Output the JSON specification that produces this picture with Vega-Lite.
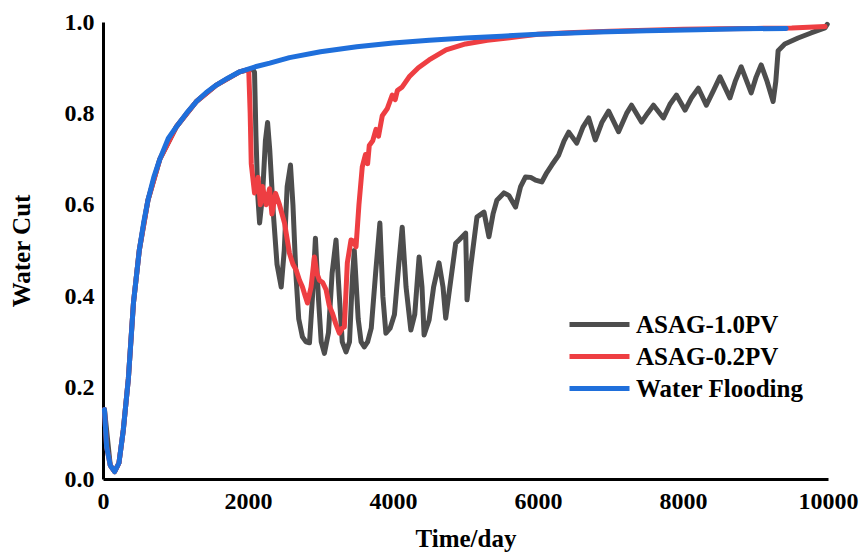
{
  "$schema": "https://vega.github.io/schema/vega-lite/v6.json",
  "autosize": {"type": "none"},
  "padding": {"left": 103, "top": 22, "right": 31, "bottom": 73},
  "width": 725,
  "height": 457,
  "background": "white",
  "config": {
    "view": {"stroke": null},
    "font": "Liberation Serif",
    "axis": {
      "labelFont": "Liberation Serif", "labelFontWeight": "bold", "labelFontSize": 24, "labelColor": "black",
      "titleFont": "Liberation Serif", "titleFontWeight": "bold", "titleFontSize": 25, "titleColor": "black",
      "domainColor": "black", "domainWidth": 3, "ticks": false, "grid": false
    },
    "legend": {
      "labelFont": "Liberation Serif", "labelFontWeight": "bold", "labelFontSize": 25, "labelColor": "black", "padding": 0, "labelLimit": 400
    }
  },
  "data": {"values": [
    {"t": 20, "wc": 0.152, "s": "Water Flooding"},
    {"t": 50, "wc": 0.07, "s": "Water Flooding"},
    {"t": 100, "wc": 0.03, "s": "Water Flooding"},
    {"t": 160, "wc": 0.016, "s": "Water Flooding"},
    {"t": 220, "wc": 0.035, "s": "Water Flooding"},
    {"t": 280, "wc": 0.107, "s": "Water Flooding"},
    {"t": 350, "wc": 0.22, "s": "Water Flooding"},
    {"t": 420, "wc": 0.385, "s": "Water Flooding"},
    {"t": 500, "wc": 0.5, "s": "Water Flooding"},
    {"t": 560, "wc": 0.56, "s": "Water Flooding"},
    {"t": 620, "wc": 0.61, "s": "Water Flooding"},
    {"t": 700, "wc": 0.66, "s": "Water Flooding"},
    {"t": 784, "wc": 0.7, "s": "Water Flooding"},
    {"t": 900, "wc": 0.745, "s": "Water Flooding"},
    {"t": 1013, "wc": 0.771, "s": "Water Flooding"},
    {"t": 1150, "wc": 0.8, "s": "Water Flooding"},
    {"t": 1288, "wc": 0.826, "s": "Water Flooding"},
    {"t": 1420, "wc": 0.845, "s": "Water Flooding"},
    {"t": 1563, "wc": 0.862, "s": "Water Flooding"},
    {"t": 1720, "wc": 0.877, "s": "Water Flooding"},
    {"t": 1884, "wc": 0.891, "s": "Water Flooding"},
    {"t": 2100, "wc": 0.902, "s": "Water Flooding"},
    {"t": 2300, "wc": 0.91, "s": "Water Flooding"},
    {"t": 2572, "wc": 0.922, "s": "Water Flooding"},
    {"t": 3000, "wc": 0.935, "s": "Water Flooding"},
    {"t": 3500, "wc": 0.946, "s": "Water Flooding"},
    {"t": 4000, "wc": 0.954, "s": "Water Flooding"},
    {"t": 4500, "wc": 0.96, "s": "Water Flooding"},
    {"t": 5000, "wc": 0.965, "s": "Water Flooding"},
    {"t": 5500, "wc": 0.969, "s": "Water Flooding"},
    {"t": 6000, "wc": 0.973, "s": "Water Flooding"},
    {"t": 6836, "wc": 0.978, "s": "Water Flooding"},
    {"t": 7500, "wc": 0.981, "s": "Water Flooding"},
    {"t": 8200, "wc": 0.983, "s": "Water Flooding"},
    {"t": 8800, "wc": 0.985, "s": "Water Flooding"},
    {"t": 9422, "wc": 0.986, "s": "Water Flooding"},

    {"t": 20, "wc": 0.152, "s": "ASAG-0.2PV"},
    {"t": 50, "wc": 0.07, "s": "ASAG-0.2PV"},
    {"t": 100, "wc": 0.03, "s": "ASAG-0.2PV"},
    {"t": 160, "wc": 0.016, "s": "ASAG-0.2PV"},
    {"t": 220, "wc": 0.035, "s": "ASAG-0.2PV"},
    {"t": 280, "wc": 0.107, "s": "ASAG-0.2PV"},
    {"t": 350, "wc": 0.22, "s": "ASAG-0.2PV"},
    {"t": 420, "wc": 0.385, "s": "ASAG-0.2PV"},
    {"t": 500, "wc": 0.5, "s": "ASAG-0.2PV"},
    {"t": 620, "wc": 0.61, "s": "ASAG-0.2PV"},
    {"t": 784, "wc": 0.7, "s": "ASAG-0.2PV"},
    {"t": 1013, "wc": 0.771, "s": "ASAG-0.2PV"},
    {"t": 1288, "wc": 0.826, "s": "ASAG-0.2PV"},
    {"t": 1563, "wc": 0.862, "s": "ASAG-0.2PV"},
    {"t": 1884, "wc": 0.891, "s": "ASAG-0.2PV"},
    {"t": 2010, "wc": 0.896, "s": "ASAG-0.2PV"},
    {"t": 2030, "wc": 0.8, "s": "ASAG-0.2PV"},
    {"t": 2045, "wc": 0.69, "s": "ASAG-0.2PV"},
    {"t": 2090, "wc": 0.626, "s": "ASAG-0.2PV"},
    {"t": 2140, "wc": 0.66, "s": "ASAG-0.2PV"},
    {"t": 2170, "wc": 0.6, "s": "ASAG-0.2PV"},
    {"t": 2200, "wc": 0.64, "s": "ASAG-0.2PV"},
    {"t": 2250, "wc": 0.6, "s": "ASAG-0.2PV"},
    {"t": 2297, "wc": 0.635, "s": "ASAG-0.2PV"},
    {"t": 2330, "wc": 0.58, "s": "ASAG-0.2PV"},
    {"t": 2380, "wc": 0.625, "s": "ASAG-0.2PV"},
    {"t": 2435, "wc": 0.6, "s": "ASAG-0.2PV"},
    {"t": 2504, "wc": 0.56, "s": "ASAG-0.2PV"},
    {"t": 2572, "wc": 0.494, "s": "ASAG-0.2PV"},
    {"t": 2620, "wc": 0.47, "s": "ASAG-0.2PV"},
    {"t": 2664, "wc": 0.457, "s": "ASAG-0.2PV"},
    {"t": 2710, "wc": 0.435, "s": "ASAG-0.2PV"},
    {"t": 2751, "wc": 0.42, "s": "ASAG-0.2PV"},
    {"t": 2790, "wc": 0.4, "s": "ASAG-0.2PV"},
    {"t": 2820, "wc": 0.385, "s": "ASAG-0.2PV"},
    {"t": 2870, "wc": 0.42, "s": "ASAG-0.2PV"},
    {"t": 2916, "wc": 0.486, "s": "ASAG-0.2PV"},
    {"t": 2950, "wc": 0.45, "s": "ASAG-0.2PV"},
    {"t": 2985, "wc": 0.435, "s": "ASAG-0.2PV"},
    {"t": 3030, "wc": 0.43, "s": "ASAG-0.2PV"},
    {"t": 3077, "wc": 0.414, "s": "ASAG-0.2PV"},
    {"t": 3120, "wc": 0.38, "s": "ASAG-0.2PV"},
    {"t": 3164, "wc": 0.363, "s": "ASAG-0.2PV"},
    {"t": 3210, "wc": 0.34, "s": "ASAG-0.2PV"},
    {"t": 3260, "wc": 0.319, "s": "ASAG-0.2PV"},
    {"t": 3300, "wc": 0.33, "s": "ASAG-0.2PV"},
    {"t": 3329, "wc": 0.333, "s": "ASAG-0.2PV"},
    {"t": 3370, "wc": 0.473, "s": "ASAG-0.2PV"},
    {"t": 3421, "wc": 0.523, "s": "ASAG-0.2PV"},
    {"t": 3460, "wc": 0.52, "s": "ASAG-0.2PV"},
    {"t": 3490, "wc": 0.508, "s": "ASAG-0.2PV"},
    {"t": 3530, "wc": 0.6, "s": "ASAG-0.2PV"},
    {"t": 3576, "wc": 0.683, "s": "ASAG-0.2PV"},
    {"t": 3620, "wc": 0.71, "s": "ASAG-0.2PV"},
    {"t": 3650, "wc": 0.69, "s": "ASAG-0.2PV"},
    {"t": 3673, "wc": 0.73, "s": "ASAG-0.2PV"},
    {"t": 3720, "wc": 0.74, "s": "ASAG-0.2PV"},
    {"t": 3765, "wc": 0.765, "s": "ASAG-0.2PV"},
    {"t": 3800, "wc": 0.75, "s": "ASAG-0.2PV"},
    {"t": 3852, "wc": 0.795, "s": "ASAG-0.2PV"},
    {"t": 3920, "wc": 0.81, "s": "ASAG-0.2PV"},
    {"t": 3989, "wc": 0.84, "s": "ASAG-0.2PV"},
    {"t": 4030, "wc": 0.83, "s": "ASAG-0.2PV"},
    {"t": 4060, "wc": 0.85, "s": "ASAG-0.2PV"},
    {"t": 4127, "wc": 0.858, "s": "ASAG-0.2PV"},
    {"t": 4180, "wc": 0.87, "s": "ASAG-0.2PV"},
    {"t": 4223, "wc": 0.88, "s": "ASAG-0.2PV"},
    {"t": 4350, "wc": 0.9, "s": "ASAG-0.2PV"},
    {"t": 4498, "wc": 0.917, "s": "ASAG-0.2PV"},
    {"t": 4732, "wc": 0.939, "s": "ASAG-0.2PV"},
    {"t": 5000, "wc": 0.952, "s": "ASAG-0.2PV"},
    {"t": 5300, "wc": 0.96, "s": "ASAG-0.2PV"},
    {"t": 5740, "wc": 0.968, "s": "ASAG-0.2PV"},
    {"t": 6000, "wc": 0.973, "s": "ASAG-0.2PV"},
    {"t": 6500, "wc": 0.977, "s": "ASAG-0.2PV"},
    {"t": 7000, "wc": 0.98, "s": "ASAG-0.2PV"},
    {"t": 7500, "wc": 0.982, "s": "ASAG-0.2PV"},
    {"t": 8000, "wc": 0.984, "s": "ASAG-0.2PV"},
    {"t": 8500, "wc": 0.985, "s": "ASAG-0.2PV"},
    {"t": 9000, "wc": 0.986, "s": "ASAG-0.2PV"},
    {"t": 9500, "wc": 0.987, "s": "ASAG-0.2PV"},
    {"t": 9960, "wc": 0.99, "s": "ASAG-0.2PV"},

    {"t": 20, "wc": 0.152, "s": "ASAG-1.0PV"},
    {"t": 100, "wc": 0.03, "s": "ASAG-1.0PV"},
    {"t": 160, "wc": 0.016, "s": "ASAG-1.0PV"},
    {"t": 220, "wc": 0.035, "s": "ASAG-1.0PV"},
    {"t": 280, "wc": 0.107, "s": "ASAG-1.0PV"},
    {"t": 350, "wc": 0.22, "s": "ASAG-1.0PV"},
    {"t": 420, "wc": 0.385, "s": "ASAG-1.0PV"},
    {"t": 500, "wc": 0.5, "s": "ASAG-1.0PV"},
    {"t": 620, "wc": 0.61, "s": "ASAG-1.0PV"},
    {"t": 784, "wc": 0.7, "s": "ASAG-1.0PV"},
    {"t": 1013, "wc": 0.771, "s": "ASAG-1.0PV"},
    {"t": 1288, "wc": 0.826, "s": "ASAG-1.0PV"},
    {"t": 1563, "wc": 0.862, "s": "ASAG-1.0PV"},
    {"t": 1884, "wc": 0.891, "s": "ASAG-1.0PV"},
    {"t": 2060, "wc": 0.898, "s": "ASAG-1.0PV"},
    {"t": 2090, "wc": 0.89, "s": "ASAG-1.0PV"},
    {"t": 2110, "wc": 0.75, "s": "ASAG-1.0PV"},
    {"t": 2135, "wc": 0.62, "s": "ASAG-1.0PV"},
    {"t": 2160, "wc": 0.56, "s": "ASAG-1.0PV"},
    {"t": 2200, "wc": 0.62, "s": "ASAG-1.0PV"},
    {"t": 2240, "wc": 0.74, "s": "ASAG-1.0PV"},
    {"t": 2270, "wc": 0.78, "s": "ASAG-1.0PV"},
    {"t": 2300, "wc": 0.72, "s": "ASAG-1.0PV"},
    {"t": 2350, "wc": 0.58, "s": "ASAG-1.0PV"},
    {"t": 2400, "wc": 0.47, "s": "ASAG-1.0PV"},
    {"t": 2458, "wc": 0.42, "s": "ASAG-1.0PV"},
    {"t": 2500, "wc": 0.5, "s": "ASAG-1.0PV"},
    {"t": 2540, "wc": 0.64, "s": "ASAG-1.0PV"},
    {"t": 2586, "wc": 0.687, "s": "ASAG-1.0PV"},
    {"t": 2620, "wc": 0.6, "s": "ASAG-1.0PV"},
    {"t": 2660, "wc": 0.45, "s": "ASAG-1.0PV"},
    {"t": 2700, "wc": 0.35, "s": "ASAG-1.0PV"},
    {"t": 2751, "wc": 0.311, "s": "ASAG-1.0PV"},
    {"t": 2800, "wc": 0.3, "s": "ASAG-1.0PV"},
    {"t": 2848, "wc": 0.298, "s": "ASAG-1.0PV"},
    {"t": 2890, "wc": 0.4, "s": "ASAG-1.0PV"},
    {"t": 2930, "wc": 0.527, "s": "ASAG-1.0PV"},
    {"t": 2970, "wc": 0.4, "s": "ASAG-1.0PV"},
    {"t": 3010, "wc": 0.3, "s": "ASAG-1.0PV"},
    {"t": 3054, "wc": 0.275, "s": "ASAG-1.0PV"},
    {"t": 3110, "wc": 0.32, "s": "ASAG-1.0PV"},
    {"t": 3160, "wc": 0.45, "s": "ASAG-1.0PV"},
    {"t": 3214, "wc": 0.523, "s": "ASAG-1.0PV"},
    {"t": 3260, "wc": 0.4, "s": "ASAG-1.0PV"},
    {"t": 3300, "wc": 0.3, "s": "ASAG-1.0PV"},
    {"t": 3352, "wc": 0.278, "s": "ASAG-1.0PV"},
    {"t": 3400, "wc": 0.3, "s": "ASAG-1.0PV"},
    {"t": 3440, "wc": 0.44, "s": "ASAG-1.0PV"},
    {"t": 3466, "wc": 0.5, "s": "ASAG-1.0PV"},
    {"t": 3520, "wc": 0.35, "s": "ASAG-1.0PV"},
    {"t": 3560, "wc": 0.3, "s": "ASAG-1.0PV"},
    {"t": 3604, "wc": 0.289, "s": "ASAG-1.0PV"},
    {"t": 3650, "wc": 0.3, "s": "ASAG-1.0PV"},
    {"t": 3700, "wc": 0.33, "s": "ASAG-1.0PV"},
    {"t": 3760, "wc": 0.45, "s": "ASAG-1.0PV"},
    {"t": 3819, "wc": 0.56, "s": "ASAG-1.0PV"},
    {"t": 3860, "wc": 0.4, "s": "ASAG-1.0PV"},
    {"t": 3902, "wc": 0.319, "s": "ASAG-1.0PV"},
    {"t": 3960, "wc": 0.33, "s": "ASAG-1.0PV"},
    {"t": 4020, "wc": 0.36, "s": "ASAG-1.0PV"},
    {"t": 4080, "wc": 0.47, "s": "ASAG-1.0PV"},
    {"t": 4127, "wc": 0.551, "s": "ASAG-1.0PV"},
    {"t": 4180, "wc": 0.42, "s": "ASAG-1.0PV"},
    {"t": 4246, "wc": 0.326, "s": "ASAG-1.0PV"},
    {"t": 4300, "wc": 0.36, "s": "ASAG-1.0PV"},
    {"t": 4360, "wc": 0.486, "s": "ASAG-1.0PV"},
    {"t": 4400, "wc": 0.42, "s": "ASAG-1.0PV"},
    {"t": 4429, "wc": 0.315, "s": "ASAG-1.0PV"},
    {"t": 4498, "wc": 0.348, "s": "ASAG-1.0PV"},
    {"t": 4560, "wc": 0.42, "s": "ASAG-1.0PV"},
    {"t": 4635, "wc": 0.473, "s": "ASAG-1.0PV"},
    {"t": 4690, "wc": 0.42, "s": "ASAG-1.0PV"},
    {"t": 4727, "wc": 0.352, "s": "ASAG-1.0PV"},
    {"t": 4773, "wc": 0.407, "s": "ASAG-1.0PV"},
    {"t": 4865, "wc": 0.516, "s": "ASAG-1.0PV"},
    {"t": 4911, "wc": 0.523, "s": "ASAG-1.0PV"},
    {"t": 5002, "wc": 0.538, "s": "ASAG-1.0PV"},
    {"t": 5015, "wc": 0.45, "s": "ASAG-1.0PV"},
    {"t": 5021, "wc": 0.392, "s": "ASAG-1.0PV"},
    {"t": 5071, "wc": 0.464, "s": "ASAG-1.0PV"},
    {"t": 5158, "wc": 0.573, "s": "ASAG-1.0PV"},
    {"t": 5255, "wc": 0.584, "s": "ASAG-1.0PV"},
    {"t": 5323, "wc": 0.53, "s": "ASAG-1.0PV"},
    {"t": 5380, "wc": 0.58, "s": "ASAG-1.0PV"},
    {"t": 5433, "wc": 0.61, "s": "ASAG-1.0PV"},
    {"t": 5530, "wc": 0.626, "s": "ASAG-1.0PV"},
    {"t": 5600, "wc": 0.62, "s": "ASAG-1.0PV"},
    {"t": 5690, "wc": 0.595, "s": "ASAG-1.0PV"},
    {"t": 5760, "wc": 0.64, "s": "ASAG-1.0PV"},
    {"t": 5828, "wc": 0.661, "s": "ASAG-1.0PV"},
    {"t": 5900, "wc": 0.66, "s": "ASAG-1.0PV"},
    {"t": 5966, "wc": 0.654, "s": "ASAG-1.0PV"},
    {"t": 6052, "wc": 0.65, "s": "ASAG-1.0PV"},
    {"t": 6120, "wc": 0.67, "s": "ASAG-1.0PV"},
    {"t": 6190, "wc": 0.687, "s": "ASAG-1.0PV"},
    {"t": 6286, "wc": 0.709, "s": "ASAG-1.0PV"},
    {"t": 6360, "wc": 0.74, "s": "ASAG-1.0PV"},
    {"t": 6424, "wc": 0.759, "s": "ASAG-1.0PV"},
    {"t": 6534, "wc": 0.735, "s": "ASAG-1.0PV"},
    {"t": 6620, "wc": 0.77, "s": "ASAG-1.0PV"},
    {"t": 6699, "wc": 0.79, "s": "ASAG-1.0PV"},
    {"t": 6791, "wc": 0.742, "s": "ASAG-1.0PV"},
    {"t": 6880, "wc": 0.78, "s": "ASAG-1.0PV"},
    {"t": 6974, "wc": 0.805, "s": "ASAG-1.0PV"},
    {"t": 7111, "wc": 0.76, "s": "ASAG-1.0PV"},
    {"t": 7222, "wc": 0.8, "s": "ASAG-1.0PV"},
    {"t": 7290, "wc": 0.818, "s": "ASAG-1.0PV"},
    {"t": 7428, "wc": 0.781, "s": "ASAG-1.0PV"},
    {"t": 7510, "wc": 0.8, "s": "ASAG-1.0PV"},
    {"t": 7593, "wc": 0.818, "s": "ASAG-1.0PV"},
    {"t": 7730, "wc": 0.79, "s": "ASAG-1.0PV"},
    {"t": 7820, "wc": 0.82, "s": "ASAG-1.0PV"},
    {"t": 7909, "wc": 0.84, "s": "ASAG-1.0PV"},
    {"t": 8029, "wc": 0.807, "s": "ASAG-1.0PV"},
    {"t": 8120, "wc": 0.835, "s": "ASAG-1.0PV"},
    {"t": 8212, "wc": 0.855, "s": "ASAG-1.0PV"},
    {"t": 8322, "wc": 0.818, "s": "ASAG-1.0PV"},
    {"t": 8420, "wc": 0.85, "s": "ASAG-1.0PV"},
    {"t": 8510, "wc": 0.88, "s": "ASAG-1.0PV"},
    {"t": 8647, "wc": 0.834, "s": "ASAG-1.0PV"},
    {"t": 8720, "wc": 0.87, "s": "ASAG-1.0PV"},
    {"t": 8803, "wc": 0.902, "s": "ASAG-1.0PV"},
    {"t": 8941, "wc": 0.845, "s": "ASAG-1.0PV"},
    {"t": 9010, "wc": 0.88, "s": "ASAG-1.0PV"},
    {"t": 9078, "wc": 0.906, "s": "ASAG-1.0PV"},
    {"t": 9160, "wc": 0.87, "s": "ASAG-1.0PV"},
    {"t": 9243, "wc": 0.826, "s": "ASAG-1.0PV"},
    {"t": 9280, "wc": 0.87, "s": "ASAG-1.0PV"},
    {"t": 9312, "wc": 0.937, "s": "ASAG-1.0PV"},
    {"t": 9404, "wc": 0.952, "s": "ASAG-1.0PV"},
    {"t": 9587, "wc": 0.965, "s": "ASAG-1.0PV"},
    {"t": 9766, "wc": 0.976, "s": "ASAG-1.0PV"},
    {"t": 9958, "wc": 0.987, "s": "ASAG-1.0PV"},
    {"t": 9990, "wc": 0.995, "s": "ASAG-1.0PV"}
  ]},
  "encoding": {
    "x": {"field": "t", "type": "quantitative",
      "scale": {"domain": [0, 10000], "nice": false, "zero": false},
      "axis": {"values": [0, 2000, 4000, 6000, 8000, 10000], "format": "d", "title": "Time/day", "labelPadding": 10, "titlePadding": 13, "labelFlush": false}},
    "y": {"field": "wc", "type": "quantitative",
      "scale": {"domain": [0, 1], "nice": false},
      "axis": {"values": [0, 0.2, 0.4, 0.6, 0.8, 1.0], "format": ".1f", "title": "Water Cut", "labelPadding": 9, "titlePadding": 30}},
    "color": {"field": "s", "type": "nominal",
      "scale": {"domain": ["ASAG-1.0PV", "ASAG-0.2PV", "Water Flooding"], "range": ["#4d4d4d", "#ee3e42", "#1f6fdb"]},
      "legend": {"title": null, "orient": "none", "legendX": 479, "legendY": 285, "symbolType": "M-2,0H2", "symbolSize": 900, "symbolStrokeWidth": 5, "labelOffset": 19, "rowPadding": 1, "labelLimit": 400}},
    "order": {"field": "t", "type": "quantitative"}
  },
  "layer": [
    {"transform": [{"filter": "datum.s === 'ASAG-1.0PV'"}], "mark": {"type": "line", "strokeWidth": 5, "strokeJoin": "round", "strokeCap": "round"}},
    {"transform": [{"filter": "datum.s === 'ASAG-0.2PV'"}], "mark": {"type": "line", "strokeWidth": 5, "strokeJoin": "round", "strokeCap": "round"}},
    {"transform": [{"filter": "datum.s === 'Water Flooding'"}], "mark": {"type": "line", "strokeWidth": 5, "strokeJoin": "round", "strokeCap": "round"}}
  ]
}
